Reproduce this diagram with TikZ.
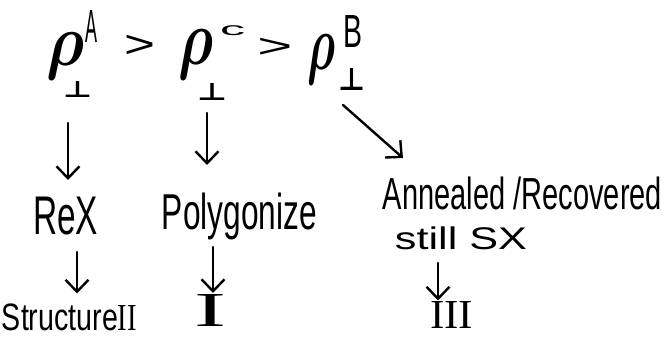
\documentclass[tikz,border=0pt]{standalone}
\usepackage{graphicx}
\usepackage{fontspec}
\setmainfont{Liberation Sans}
\newfontfamily\numfont{Liberation Serif}
\newfontfamily\symfont{DejaVu Sans}
\usetikzlibrary{arrows.meta}
\newcommand{\fitbox}[3]{\resizebox*{#1}{#2}{#3}}
\begin{document}
\begin{tikzpicture}[x=1pt,y=-1pt,
  txt/.style={inner sep=0pt, outer sep=0pt},
  arr/.style={line width=2.4pt, line cap=round,
    -{Straight Barb[length=12pt,width=23pt,line width=2.4pt]}}]
\useasboundingbox (0,0) rectangle (666,337);
% top row: rho_perp^A > rho_perp^C > rho_perp^B
\node[txt] (rhoA)  at (66,56.5)   {\fitbox{38pt}{47pt}{\boldmath$\rho$}};
\node[txt] (perpA) at (77.5,89)   {\fitbox{29pt}{16pt}{\symfont\bfseries ⊥}};
\node[txt] (supA)  at (91,26)     {\fitbox{12pt}{32pt}{A}};
\node[txt] (gt1)   at (140,46)    {\scalebox{1}[0.72]{\fontsize{53}{53}\selectfont >}};
\node[txt] (rhoC)  at (195.5,55)  {\fitbox{35pt}{50pt}{\boldmath$\rho$}};
\node[txt] (perpC) at (212,91.5)  {\fitbox{30pt}{17pt}{\symfont\bfseries ⊥}};
\node[txt] (supC)  at (232.5,31)  {\fitbox{25pt}{10pt}{c}};
\node[txt] (gt2)   at (275,47.5)  {\scalebox{1}[0.55]{\fontsize{60}{60}\selectfont >}};
\node[txt] (rhoB)  at (321,60)    {\fitbox{28pt}{50pt}{\boldmath$\rho$}};
\node[txt] (perpB) at (351.5,79)  {\fitbox{27pt}{22pt}{\symfont\bfseries ⊥}};
\node[txt] (supB)  at (352.5,31)  {\fitbox{19pt}{32pt}{B}};
% middle row
\node[txt] (rex)    at (65.5,216)  {\fitbox{65pt}{38pt}{ReX}};
\node[txt] (poly)   at (239.5,216.5) {\fitbox{155pt}{47pt}{Polygonize}};
\node[txt] (anneal) at (522.5,193.5) {\fitbox{279pt}{33pt}{Annealed /Recovered}};
\node[txt] (still)  at (461,238.5) {\fitbox{132pt}{23pt}{still SX}};
% bottom row
\node[txt] (struct) at (69.5,317) {\fitbox{135pt}{27pt}{Structure{\numfont II}}};
\node[txt] (numI)   at (211,310)   {\fitbox{32pt}{32pt}{\numfont I}};
\node[txt] (numIII) at (451.5,315) {\fitbox{43pt}{27pt}{\numfont III}};
% connectors
\draw[arr] ([xshift=-9.5pt,yshift=-26pt]perpA.south) -- ([xshift=2.5pt,yshift=17pt]rex.north);
\draw[arr] ([xshift=-5pt,yshift=-13pt]perpC.south) -- ([xshift=-32.5pt,yshift=28pt]poly.north);
\draw[arr] ([xshift=-8.5pt,yshift=-15pt]perpB.south) -- ([xshift=20pt,yshift=19pt]anneal.north west);
\draw[arr] ([xshift=11.5pt,yshift=-17pt]rex.south) -- ([xshift=7.5pt,yshift=10pt]struct.north);
\draw[arr] ([xshift=-26.5pt,yshift=-7pt]poly.south) -- ([xshift=2pt,yshift=1pt]numI.north);
\draw[arr] ([xshift=-23pt,yshift=-13pt]still.south) -- ([xshift=-13.5pt,yshift=1pt]numIII.north);
\end{tikzpicture}
\end{document}
